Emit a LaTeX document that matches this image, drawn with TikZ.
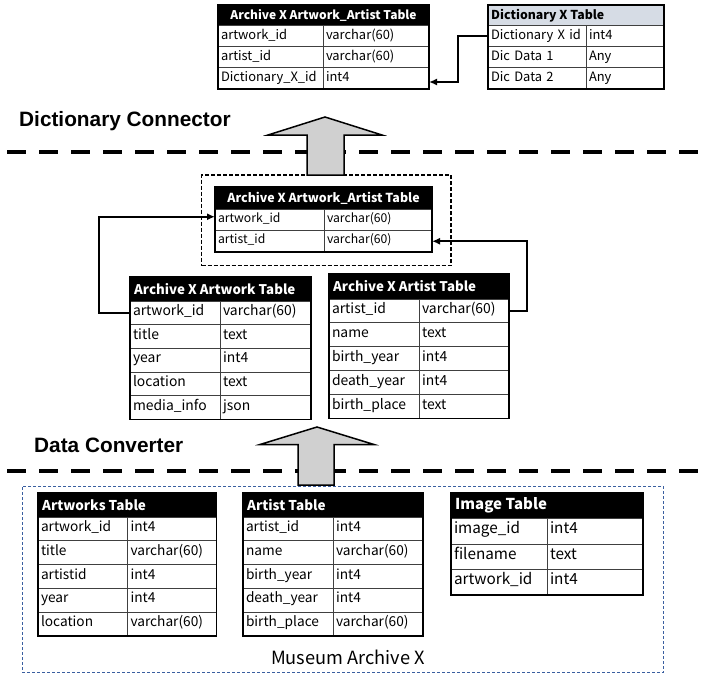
\documentclass[tikz,border=0pt]{standalone}
\usepackage{fontspec}
\setmainfont{Noto Sans CJK JP}
\newfontfamily\layerfont{Liberation Sans}
\usetikzlibrary{arrows.meta,calc}

\definecolor{dichead}{HTML}{D6DCE5}
\definecolor{arrowgray}{HTML}{D0D0D0}
\definecolor{archiveblue}{HTML}{3A5FA0}
\definecolor{gridgray}{HTML}{404040}

% font sizes and title placement of the table currently being drawn
\def\cellsize{\fontsize{13}{15}\selectfont}
\def\hdrsize{\fontsize{13}{15}\selectfont}
\def\hdrfrac{0}
\def\hdrpad{4}

% \dbtab{name}{left,top}{col 1 width}{col 2 width}{header height}{row height}{title}{field/type,...}
\newcommand{\dbtab}[8]{%
  \pgfmathsetmacro\tabw{#3+#4}%
  \pgfmathsetmacro\cellta{#3-6}%
  \pgfmathsetmacro\celltb{#4-6}%
  \node[tabhead, minimum width=\tabw pt, minimum height=#5 pt]
    (#1-h) at ($(#2)+({(#3+#4)/2},{#5/2})$) {};
  \node[tabtitle] (#1-t) at ($(#1-h.west)!\hdrfrac!(#1-h.east)+(\hdrpad,0)$) {#7};
  \foreach \fld/\typ [count=\i] in {#8} {%
    \node[tabcell, minimum height=#6 pt, text width=\cellta pt]
      (#1-a\i) at ($(#2)+({#3/2},{#5+(\i-0.5)*#6})$) {\fld};
    \node[tabcell, minimum height=#6 pt, text width=\celltb pt]
      (#1-b\i) at ($(#2)+({#3+#4/2},{#5+(\i-0.5)*#6})$) {\typ};
    \xdef\tabrows{\i}%
  }
  \draw[tabframe] (#1-h.north west) rectangle (#1-b\tabrows.south east);
}

\tikzset{
  tabhead/.style={draw=black, fill=black, line width=1pt, inner sep=0pt, outer sep=0pt},
  tabtitle/.style={text=white, font={\hdrsize\bfseries}, inner sep=0pt, anchor=west},
  tabcell/.style={draw=gridgray, line width=1pt, font=\cellsize,
    inner xsep=3pt, inner ysep=0pt, outer sep=0pt, align=left,
    text height=0.75em, text depth=0.22em},
  tabframe/.style={draw=black, line width=1.3pt},
  conn/.style={line width=2pt, -{Latex[length=8pt,width=7pt]}},
  sepline/.style={line width=4.5pt, dash pattern=on 19pt off 13pt},
  blockarrow/.style={draw=black, line width=1.5pt, fill=arrowgray, line join=miter},
  layerlabel/.style={font={\layerfont\bfseries\fontsize{20.8}{24}\selectfont}, inner sep=0pt},
}

\begin{document}
\begin{tikzpicture}[x=1pt, y=-1pt]
\fill[white] (0,0) rectangle (706,674);
\useasboundingbox (0,0) rectangle (706,674);

% layer separators
\draw[sepline] (7,152) -- (706,152);
\draw[sepline] (7,471) -- (706,471);

% layer names
\node[layerlabel, anchor=base west] (dictlbl) at (19,126) {Dictionary Connector};
\node[layerlabel, anchor=base west] (convlbl) at (34,452) {Data Converter};

% group frames
\node[draw=black, line width=1.2pt, dash pattern=on 4pt off 2pt,
  minimum width=249.3pt, minimum height=90.7pt, inner sep=0pt] (midbox) at (326.35,220.35) {};
\node[draw=archiveblue, line width=1pt, dash pattern=on 3pt off 2pt,
  minimum width=641.5pt, minimum height=186pt, inner sep=0pt] (archive) at (342.75,579) {};
\node[font=\fontsize{18.2}{22}\selectfont, inner sep=0pt] (archlbl) at (348,657) {Museum Archive X};

% block arrows between layers
\draw[blockarrow] (307,175) -- (307,135) -- (268,135) -- (325,117) -- (382,135)
  -- (344,135) -- (344,175) -- cycle;
\draw[blockarrow] (298,485) -- (298,444.5) -- (260,444.5) -- (317,427) -- (374,444.5)
  -- (334,444.5) -- (334,485) -- cycle;

% dictionary layer
\def\cellsize{\fontsize{12.9}{15}\selectfont}
\def\hdrsize{\fontsize{12}{15}\selectfont}
\begingroup
\def\hdrfrac{0.5}\def\hdrpad{0}
\tikzset{tabtitle/.append style={anchor=center}}
\dbtab{aat}{218,5}{105}{106}{21}{21}{Archive X Artwork\_Artist Table}
  {artwork\_id/varchar(60), artist\_id/varchar(60), Dictionary\_X\_id/int4}
\endgroup
\begingroup
\def\hdrsize{\fontsize{12.3}{15}\selectfont}
\def\hdrpad{3}
\tikzset{tabhead/.append style={fill=dichead}, tabtitle/.append style={text=black}}
\dbtab{dic}{488,5}{98}{78}{21}{21}{Dictionary X Table}
  {Dictionary X id/int4, Dic Data 1/Any, Dic Data 2/Any}
\endgroup

% converted tables
\def\cellsize{\fontsize{12.2}{14}\selectfont}
\def\hdrsize{\fontsize{12.4}{15}\selectfont}
\begingroup
\def\hdrfrac{0.5}\def\hdrpad{0}
\tikzset{tabtitle/.append style={anchor=center}}
\dbtab{link}{215,187}{109}{108}{22}{21.5}{Archive X Artwork\_Artist Table}
  {artwork\_id/varchar(60), artist\_id/varchar(60)}
\endgroup

\def\cellsize{\fontsize{13.9}{16}\selectfont}
\def\hdrsize{\fontsize{13.3}{16}\selectfont}
\dbtab{xart}{130,277}{90}{91}{24}{23.7}{Archive X Artwork Table}
  {artwork\_id/varchar(60), title/text, year/int4, location/text, media\_info/json}
\dbtab{xartist}{329,274}{90}{90}{25}{23.9}{Archive X Artist Table}
  {artist\_id/varchar(60), name/text, birth\_year/int4, death\_year/int4, birth\_place/text}

% source tables of the museum archive
\def\cellsize{\fontsize{13.7}{16}\selectfont}
\def\hdrsize{\fontsize{13.5}{16}\selectfont}
\dbtab{src}{38,493}{89.5}{89}{24}{23.8}{Artworks Table}
  {artwork\_id/int4, title/varchar(60), artistid/int4, year/int4, location/varchar(60)}
\dbtab{srcartist}{243,493}{90}{90}{24}{23.8}{Artist Table}
  {artist\_id/int4, name/varchar(60), birth\_year/int4, death\_year/int4, birth\_place/varchar(60)}
\def\cellsize{\fontsize{15.3}{18}\selectfont}
\def\hdrsize{\fontsize{15}{18}\selectfont}
\dbtab{img}{451,493}{96}{96}{25.5}{25.5}{Image Table}
  {image\_id/int4, filename/text, artwork\_id/int4}

% key references
\draw[conn] (dic-a1.west) -- ++(-30,0) |- ([yshift=-3.5pt]aat-b3.east);
\draw[conn] (xart-a1.west) -- ++(-31,0) |- ([yshift=3pt]link-a1.west);
\draw[conn] (xartist-b1.east) -- ++(18,0) |- (link-b2.east);
\end{tikzpicture}
\end{document}
